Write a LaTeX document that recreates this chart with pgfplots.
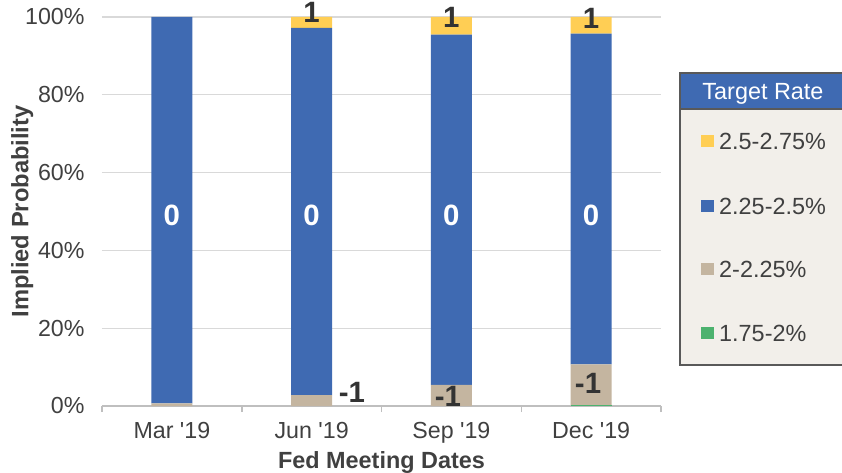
\documentclass[border=0pt]{standalone}
\usepackage{fontspec}
\setmainfont{Liberation Sans}
\usepackage{pgfplots}
\pgfplotsset{compat=1.18}
\definecolor{cBlue}{RGB}{63,106,178}
\definecolor{cYellow}{RGB}{255,206,84}
\definecolor{cTan}{RGB}{196,181,160}
\definecolor{cGreen}{RGB}{76,178,110}
\definecolor{cText}{RGB}{64,64,64}
\definecolor{cLab}{RGB}{51,51,51}
\definecolor{cGrid}{RGB}{217,217,217}
\definecolor{cAxis}{RGB}{191,191,191}
\definecolor{cLegBg}{RGB}{242,239,234}
\definecolor{cBorder}{RGB}{89,89,89}
\begin{document}
\begin{tikzpicture}
\begin{axis}[
  at={(0bp,0bp)}, anchor=south west, scale only axis,
  width=559bp, height=389bp,
  xmin=-0.5, xmax=3.5, ymin=0, ymax=100,
  ybar stacked, bar width=41bp,
  clip=false,
  axis lines*=left,
  x axis line style={draw=cAxis, line width=1.5bp},
  y axis line style={draw=none},
  ymajorgrids, major grid style={draw=cGrid, line width=1.2bp},
  ytick={0,20,...,100},
  yticklabel={\pgfmathprintnumber{\tick}\%},
  xtick={0,1,2,3},
  xticklabels={Mar \textquotesingle19, Jun \textquotesingle19, Sep \textquotesingle19, Dec \textquotesingle19},
  major tick length=0pt,
  minor xtick={-0.5,0.5,1.5,2.5,3.5},
  minor tick length=6bp, tick align=outside,
  minor tick style={draw=cAxis, line width=1.5bp},
  tick label style={font=\fontsize{23.3}{25}\selectfont, text=cText},
  /pgf/number format/assume math mode=true,
  yticklabel style={xshift=-14bp},
  xticklabel style={yshift=-12.5bp},
  xlabel={Fed Meeting Dates},
  xlabel style={at={(axis description cs:0.5,-0.1594)}, anchor=base, font=\bfseries\fontsize{23.5}{25}\selectfont, text=cText},
  ylabel={Implied Probability},
  ylabel style={at={(axis description cs:-0.1318,0.5)}, anchor=base, font=\bfseries\fontsize{23.8}{25}\selectfont, text=cText},
]
\addplot[fill=cGreen, draw=none] coordinates {(0,0) (1,0) (2,0) (3,0.3)};
\addplot[fill=cTan, draw=none] coordinates {(0,0.7) (1,2.8) (2,5.4) (3,10.4)};
\addplot[fill=cBlue, draw=none] coordinates {(0,99.3) (1,94.4) (2,90.1) (3,85.0)};
\addplot[fill=cYellow, draw=none] coordinates {(0,0) (1,2.8) (2,4.5) (3,4.3)};
% label anchors
\coordinate (Z0) at (axis cs:0,49.1);
\coordinate (Z1) at (axis cs:1,49.1);
\coordinate (Z2) at (axis cs:2,49.1);
\coordinate (Z3) at (axis cs:3,49.1);
\coordinate (U1) at (axis cs:1,101.2);
\coordinate (U2) at (axis cs:2,99.9);
\coordinate (U3) at (axis cs:3,99.7);
\coordinate (D1) at (axis cs:1.289,3.6);
\coordinate (D2) at (axis cs:1.976,2.4);
\coordinate (D3) at (axis cs:2.978,5.7);
\end{axis}
\tikzset{lab/.style={font=\bfseries\fontsize{29.5}{30}\selectfont, text=cLab, inner sep=0}}
\node[lab, text=white] at (Z0) {0};
\node[lab, text=white] at (Z1) {0};
\node[lab, text=white] at (Z2) {0};
\node[lab, text=white] at (Z3) {0};
\node[lab] at (U1) {1};
\node[lab] at (U2) {1};
\node[lab] at (U3) {1};
\node[lab] at (D1) {-1};
\node[lab] at (D2) {-1};
\node[lab] at (D3) {-1};
% legend
\begin{scope}
\clip (-102bp,-67bp) rectangle (740bp,406bp);
\draw[cBorder, line width=1.5bp, fill=cLegBg] (578bp,41bp) rectangle (760bp,333bp);
\draw[cBorder, line width=1.5bp, fill=cBlue] (578bp,297bp) rectangle (760bp,333bp);
\end{scope}
\node[anchor=base, inner sep=0, text=white, font=\fontsize{23.5}{25}\selectfont] at (661bp,306.7bp) {Target Rate};
\fill[cYellow] (599bp,258.5bp) rectangle (612bp,270.5bp);
\fill[cBlue] (599bp,193.5bp) rectangle (612bp,205.5bp);
\fill[cTan] (599bp,131.2bp) rectangle (612bp,143.2bp);
\fill[cGreen] (599bp,66.8bp) rectangle (612bp,78.8bp);
\node[anchor=base west, inner sep=0, text=cText, font=\fontsize{23.5}{25}\selectfont] at (617bp,256bp) {2.5-2.75\%};
\node[anchor=base west, inner sep=0, text=cText, font=\fontsize{23.5}{25}\selectfont] at (617bp,191bp) {2.25-2.5\%};
\node[anchor=base west, inner sep=0, text=cText, font=\fontsize{23.5}{25}\selectfont] at (617bp,128.7bp) {2-2.25\%};
\node[anchor=base west, inner sep=0, text=cText, font=\fontsize{23.5}{25}\selectfont] at (617bp,64.3bp) {1.75-2\%};
\pgfresetboundingbox
\useasboundingbox (-102bp,-67bp) rectangle (740bp,406bp);
\end{tikzpicture}
\end{document}
